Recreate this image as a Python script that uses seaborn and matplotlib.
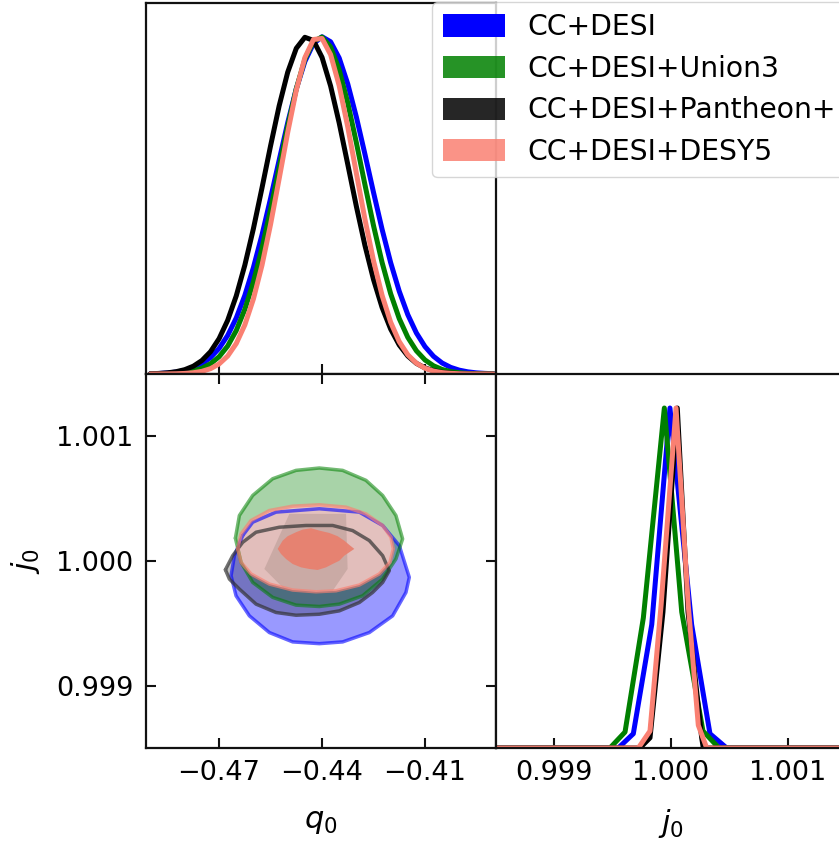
import matplotlib
matplotlib.use("Agg")
import matplotlib.pyplot as plt
from matplotlib.patches import Patch
import seaborn as sns

sns.set_style("ticks")
plt.rcParams["font.family"] = ["DejaVu Sans"]
plt.rcParams["text.color"] = "black"
plt.rcParams["axes.labelcolor"] = "black"
plt.rcParams["xtick.color"] = "black"
plt.rcParams["ytick.color"] = "black"

labels = ["CC+DESI", "CC+DESI+Union3", "CC+DESI+Pantheon+", "CC+DESI+DESY5"]
colors = ["blue", "green", "black", "salmon"]

# -----------------------------
# q0 marginals (normalised to peak = 1)
# -----------------------------
q_grid = [-0.4900, -0.4875, -0.4850, -0.4825, -0.4800, -0.4775, -0.4750, -0.4725,
          -0.4700, -0.4675, -0.4650, -0.4625, -0.4600, -0.4575, -0.4550, -0.4525,
          -0.4500, -0.4475, -0.4450, -0.4425, -0.4400, -0.4375, -0.4350, -0.4325,
          -0.4300, -0.4275, -0.4250, -0.4225, -0.4200, -0.4175, -0.4150, -0.4125,
          -0.4100, -0.4075, -0.4050, -0.4025, -0.4000, -0.3975, -0.3950, -0.3925,
          -0.3900]
q_blue = [0.0008, 0.0016, 0.0031, 0.0058, 0.0104, 0.0180, 0.0301, 0.0487,
          0.0759, 0.1143, 0.1661, 0.2330, 0.3156, 0.4124, 0.5205, 0.6338,
          0.7452, 0.8457, 0.9264, 0.9796, 0.9999, 0.9851, 0.9370, 0.8601,
          0.7622, 0.6520, 0.5385, 0.4291, 0.3302, 0.2453, 0.1758, 0.1217,
          0.0813, 0.0524, 0.0326, 0.0196, 0.0114, 0.0064, 0.0034, 0.0018,
          0.0009]
q_green = [0.0002, 0.0005, 0.0012, 0.0024, 0.0048, 0.0093, 0.0172, 0.0303,
           0.0512, 0.0829, 0.1287, 0.1915, 0.2729, 0.3727, 0.4877, 0.6114,
           0.7349, 0.8458, 0.9332, 0.9864, 0.9991, 0.9697, 0.9019, 0.8037,
           0.6862, 0.5616, 0.4402, 0.3308, 0.2381, 0.1643, 0.1086, 0.0688,
           0.0417, 0.0243, 0.0135, 0.0072, 0.0037, 0.0018, 0.0009, 0.0004,
           0.0002]
q_black = [0.0008, 0.0017, 0.0035, 0.0069, 0.0129, 0.0232, 0.0400, 0.0661,
           0.1048, 0.1591, 0.2315, 0.3227, 0.4309, 0.5516, 0.6764, 0.7948,
           0.8949, 0.9656, 0.9983, 0.9890, 0.9388, 0.8539, 0.7443, 0.6216,
           0.4973, 0.3814, 0.2803, 0.1973, 0.1332, 0.0860, 0.0533, 0.0316,
           0.0180, 0.0098, 0.0051, 0.0026, 0.0012, 0.0006, 0.0003, 0.0001,
           0.0000]
q_salmon = [0.0000, 0.0001, 0.0003, 0.0007, 0.0017, 0.0038, 0.0079, 0.0158,
            0.0298, 0.0532, 0.0903, 0.1456, 0.2224, 0.3223, 0.4435, 0.5787,
            0.7165, 0.8417, 0.9380, 0.9918, 0.9949, 0.9470, 0.8550, 0.7325,
            0.5954, 0.4591, 0.3359, 0.2332, 0.1535, 0.0960, 0.0569, 0.0320,
            0.0171, 0.0086, 0.0042, 0.0019, 0.0008, 0.0003, 0.0001, 0.0000,
            0.0000]

# -----------------------------
# j0 marginals (coarse binned)
# -----------------------------
j_blue = [0.9985, 0.999548, 0.999677, 0.999835, 0.999991, 1.000177, 1.000334, 1.000477, 1.0015]
p_blue = [0, 0, 0.042, 0.363, 1.0, 0.363, 0.042, 0, 0]
j_green = [0.9985, 0.999477, 0.999606, 0.999763, 0.999943, 1.000092, 1.000274, 1.000411, 1.0015]
p_green = [0, 0, 0.047, 0.383, 1.0, 0.400, 0.050, 0, 0]
j_black = [0.9985, 0.999734, 0.999820, 0.999931, 1.000054, 1.000146, 1.000263, 1.000277, 1.0015]
p_black = [0, 0, 0.030, 0.400, 1.0, 0.400, 0.030, 0, 0]
j_salmon = [0.9985, 0.999720, 0.999820, 0.999915, 1.000043, 1.000148, 1.000234, 1.000306, 1.0015]
p_salmon = [0, 0, 0.050, 0.420, 1.0, 0.420, 0.067, 0, 0]

# -----------------------------
# 2D (q0, j0) contours: outer (95%) and inner (68%) regions
# -----------------------------
blue_q95 = [-0.46312, -0.46020, -0.45341, -0.44079, -0.42913, -0.42234, -0.41748,
            -0.41457, -0.41554, -0.41942, -0.42622, -0.43399, -0.44079, -0.44855,
            -0.45535, -0.46117, -0.46506, -0.46651, -0.46554]
blue_j95 = [1.000204, 1.000311, 1.000392, 1.000419, 1.000392, 1.000285, 1.000124,
            0.999869, 0.999748, 0.999560, 0.999426, 0.999351, 0.999337, 0.999351,
            0.999426, 0.999560, 0.999721, 0.999882, 1.000043]

green_q95 = [-0.46525, -0.46409, -0.46020, -0.45438, -0.44758, -0.44079, -0.43399,
             -0.42719, -0.42234, -0.41846, -0.41651, -0.41846, -0.42234, -0.42816,
             -0.43496, -0.44079, -0.44758, -0.45438, -0.46020, -0.46360]
green_j95 = [1.000183, 1.000365, 1.000526, 1.000660, 1.000727, 1.000746, 1.000727,
             1.000647, 1.000526, 1.000365, 1.000177, 1.000016, 0.999855, 0.999721,
             0.999654, 0.999635, 0.999646, 0.999708, 0.999828, 0.999989]
green_q68 = [-0.44952, -0.43301, -0.43254, -0.43691, -0.45049, -0.45681]
green_j68 = [1.000378, 1.000378, 0.999936, 0.999761, 0.999761, 0.999936]

black_q95 = [-0.46816, -0.46603, -0.46312, -0.45923, -0.45244, -0.44467, -0.43690,
             -0.43108, -0.42622, -0.42234, -0.42040, -0.42234, -0.42525, -0.42913,
             -0.43496, -0.44079, -0.44758, -0.45341, -0.45923, -0.46409, -0.46700]
black_j95 = [0.999930, 1.000043, 1.000150, 1.000231, 1.000271, 1.000285, 1.000285,
             1.000244, 1.000164, 1.000043, 0.999922, 0.999828, 0.999748, 0.999667,
             0.999600, 0.999573, 0.999565, 0.999587, 0.999654, 0.999775, 0.999855]

salmon_q95 = [-0.46457, -0.46360, -0.46069, -0.45535, -0.44855, -0.44079, -0.43302,
              -0.42719, -0.42234, -0.41991, -0.41923, -0.42020, -0.42331, -0.42914,
              -0.43593, -0.44176, -0.44855, -0.45535, -0.46069, -0.46360]
salmon_j95 = [1.000097, 1.000217, 1.000325, 1.000405, 1.000440, 1.000451, 1.000432,
              1.000378, 1.000285, 1.000191, 1.000097, 0.999989, 0.999896, 0.999807,
              0.999761, 0.999753, 0.999767, 0.999815, 0.999896, 0.999989]
salmon_q68 = [-0.45293, -0.45148, -0.45002, -0.44757, -0.44565, -0.44320, -0.44079,
              -0.43787, -0.43546, -0.43350, -0.43205, -0.43059, -0.43205, -0.43350,
              -0.43496, -0.43691, -0.43883, -0.44128, -0.44370, -0.44612, -0.44856,
              -0.45049, -0.45194]
salmon_j68 = [1.000097, 1.000163, 1.000199, 1.000231, 1.000252, 1.000263, 1.000244,
              1.000225, 1.000199, 1.000163, 1.000129, 1.000097, 1.000070, 1.000043,
              1.000002, 0.999976, 0.999949, 0.999928, 0.999936, 0.999949, 0.999976,
              1.000016, 1.000056]

q_ticks = [-0.47, -0.44, -0.41]
q_ticklabels = ["\u22120.47", "\u22120.44", "\u22120.41"]
j_ticks = [0.999, 1.000, 1.001]
j_ticklabels = ["0.999", "1.000", "1.001"]
q_lim = (-0.4913, -0.3893)
j_lim = (0.9985, 1.0015)

# -----------------------------
# Figure layout (triangle plot)
# -----------------------------
fig = plt.figure(figsize=(8.39, 8.42), dpi=100)
W, H = 839, 842
ax_q = fig.add_axes([146 / W, 1 - 374 / H, 350 / W, 371 / H])
ax_2d = fig.add_axes([146 / W, 1 - 748 / H, 350 / W, 374 / H])
ax_j = fig.add_axes([496 / W, 1 - 748 / H, 350 / W, 374 / H])

lw1d = 3.6
for h, c in zip([q_blue, q_green, q_black, q_salmon], colors):
    sns.lineplot(x=q_grid, y=h, color=c, lw=lw1d, ax=ax_q)
for x, h, c in zip([j_blue, j_green, j_black, j_salmon],
                   [p_blue, p_green, p_black, p_salmon], colors):
    sns.lineplot(x=x, y=h, color=c, lw=lw1d, ax=ax_j)

# filled contours first, edges drawn on top
ax_2d.fill(blue_q95, blue_j95, color="blue", alpha=0.40, lw=0)
ax_2d.fill(green_q95, green_j95, color="green", alpha=0.34, lw=0)
ax_2d.fill(black_q95, black_j95, color="black", alpha=0.24, lw=0)
ax_2d.fill(salmon_q95, salmon_j95, color="#eec5c0", alpha=0.93, lw=0)
ax_2d.fill(green_q68, green_j68, color="#6e5a50", alpha=0.2, lw=0)
ax_2d.fill(salmon_q68, salmon_j68, color="#e8806f", alpha=0.95, lw=0)

edges = [(blue_q95, blue_j95, "blue", 0.6),
         (green_q95, green_j95, "green", 0.55),
         (black_q95, black_j95, "#333333", 0.7),
         (salmon_q95, salmon_j95, "salmon", 0.65)]
for q, j, c, a in edges:
    ax_2d.plot(q + q[:1], j + j[:1], color=c, alpha=a, lw=2.5)

# axes styling
for ax in (ax_q, ax_2d, ax_j):
    for s in ax.spines.values():
        s.set_linewidth(1.6)
        s.set_color("#111111")
    ax.tick_params(direction="in", length=7.5, width=1.5, color="#111111",
                   labelsize=19.5, pad=9)
    ax.set_xlabel("")
    ax.set_ylabel("")

ax_q.set_xlim(q_lim)
ax_q.set_ylim(0, 1.1)
ax_q.set_xticks(q_ticks)
ax_q.set_xticklabels([])
ax_q.set_yticks([])

ax_2d.set_xlim(q_lim)
ax_2d.set_ylim(j_lim)
ax_2d.set_xticks(q_ticks)
ax_2d.set_xticklabels(q_ticklabels)
ax_2d.set_yticks(j_ticks)
ax_2d.set_yticklabels(j_ticklabels)
ax_2d.tick_params(top=True, right=True)
ax_2d.set_xlabel(r"$q_0$", fontsize=22, labelpad=15)
ax_2d.set_ylabel(r"$j_0$", fontsize=22, labelpad=10)

ax_j.set_xlim(j_lim)
ax_j.set_ylim(0, 1.1)
ax_j.set_xticks(j_ticks)
ax_j.set_xticklabels(j_ticklabels)
ax_j.set_yticks([])
ax_j.set_xlabel(r"$j_0$", fontsize=22, labelpad=15)

handles = [Patch(facecolor=c, edgecolor="none", alpha=(1.0 if c == "blue" else 0.85))
           for c in colors]
fig.legend(handles, labels, loc="upper left", bbox_to_anchor=(432 / W, 1 - 2 / H),
           borderaxespad=0, fontsize=20.3, handlelength=2.2, handleheight=0.83,
           handletextpad=0.8, labelspacing=0.48, frameon=True)

fig.savefig("out.png", dpi=100)
